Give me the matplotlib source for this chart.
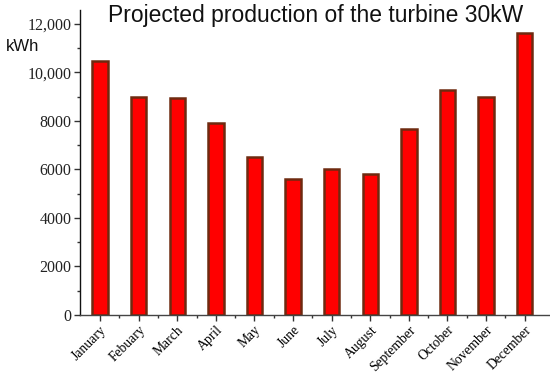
import matplotlib
matplotlib.use("Agg")
import matplotlib.pyplot as plt
from matplotlib.ticker import FuncFormatter, MultipleLocator

# monthly projected production, kWh
MONTHS = ["January", "Febuary", "March", "April", "May", "June", "July",
          "August", "September", "October", "November", "December"]
KWH = [10450, 9000, 8960, 7890, 6510, 5600, 6030, 5790, 7680, 9280, 8980, 11620]

BAR_RED = "#ff0000"
BAR_EDGE = "#6e2a10"
SERIF = ["Liberation Serif", "DejaVu Serif"]
SANS = ["Liberation Sans", "DejaVu Sans"]

fig = plt.figure(figsize=(5.5, 3.77), dpi=100)
ax = fig.add_axes([0.1455, 0.1645, 0.852, 0.808])

x = range(len(MONTHS))
ax.bar(x, KWH, width=0.40, color=BAR_RED, edgecolor=BAR_EDGE, linewidth=1.8,
       zorder=2)

ax.set_xlim(-0.52, 11.62)
ax.set_ylim(0, 12550)
ax.yaxis.set_major_locator(MultipleLocator(2000))
ax.yaxis.set_minor_locator(MultipleLocator(1000))
ax.yaxis.set_major_formatter(FuncFormatter(
    lambda v, _: f"{int(v):,}" if v >= 10000 else f"{int(v)}"))

ax.set_xticks(list(x))
ax.set_xticks([i + 0.5 for i in range(len(MONTHS) - 1)], minor=True)
ax.set_xticklabels(MONTHS, rotation=45, ha="right", rotation_mode="anchor",
                   fontfamily=SERIF, fontsize=9.8)
for lab in ax.get_yticklabels():
    lab.set_fontfamily(SERIF)
    lab.set_fontsize(11.5)

ax.tick_params(axis="both", which="major", direction="out", length=4,
               width=1, color="#333333", pad=2)
ax.tick_params(axis="both", which="minor", direction="out", length=2.5,
               width=1, color="#333333")
ax.tick_params(axis="y", labelcolor="#222222")

for side in ("top", "right"):
    ax.spines[side].set_visible(False)
ax.spines["left"].set_color("#111111")
ax.spines["bottom"].set_color("#444444")
ax.spines["left"].set_linewidth(1.0)
ax.spines["bottom"].set_linewidth(1.0)

fig.text(0.01, 0.876, "kWh", fontsize=12, fontfamily=SANS, color="#111111",
         va="center", ha="left")
fig.text(0.573, 0.958, "Projected production of the turbine 30kW",
         fontsize=16.5, fontfamily=SANS, color="#111111", ha="center",
         va="center")

fig.savefig("out.png", dpi=100, facecolor="white")
